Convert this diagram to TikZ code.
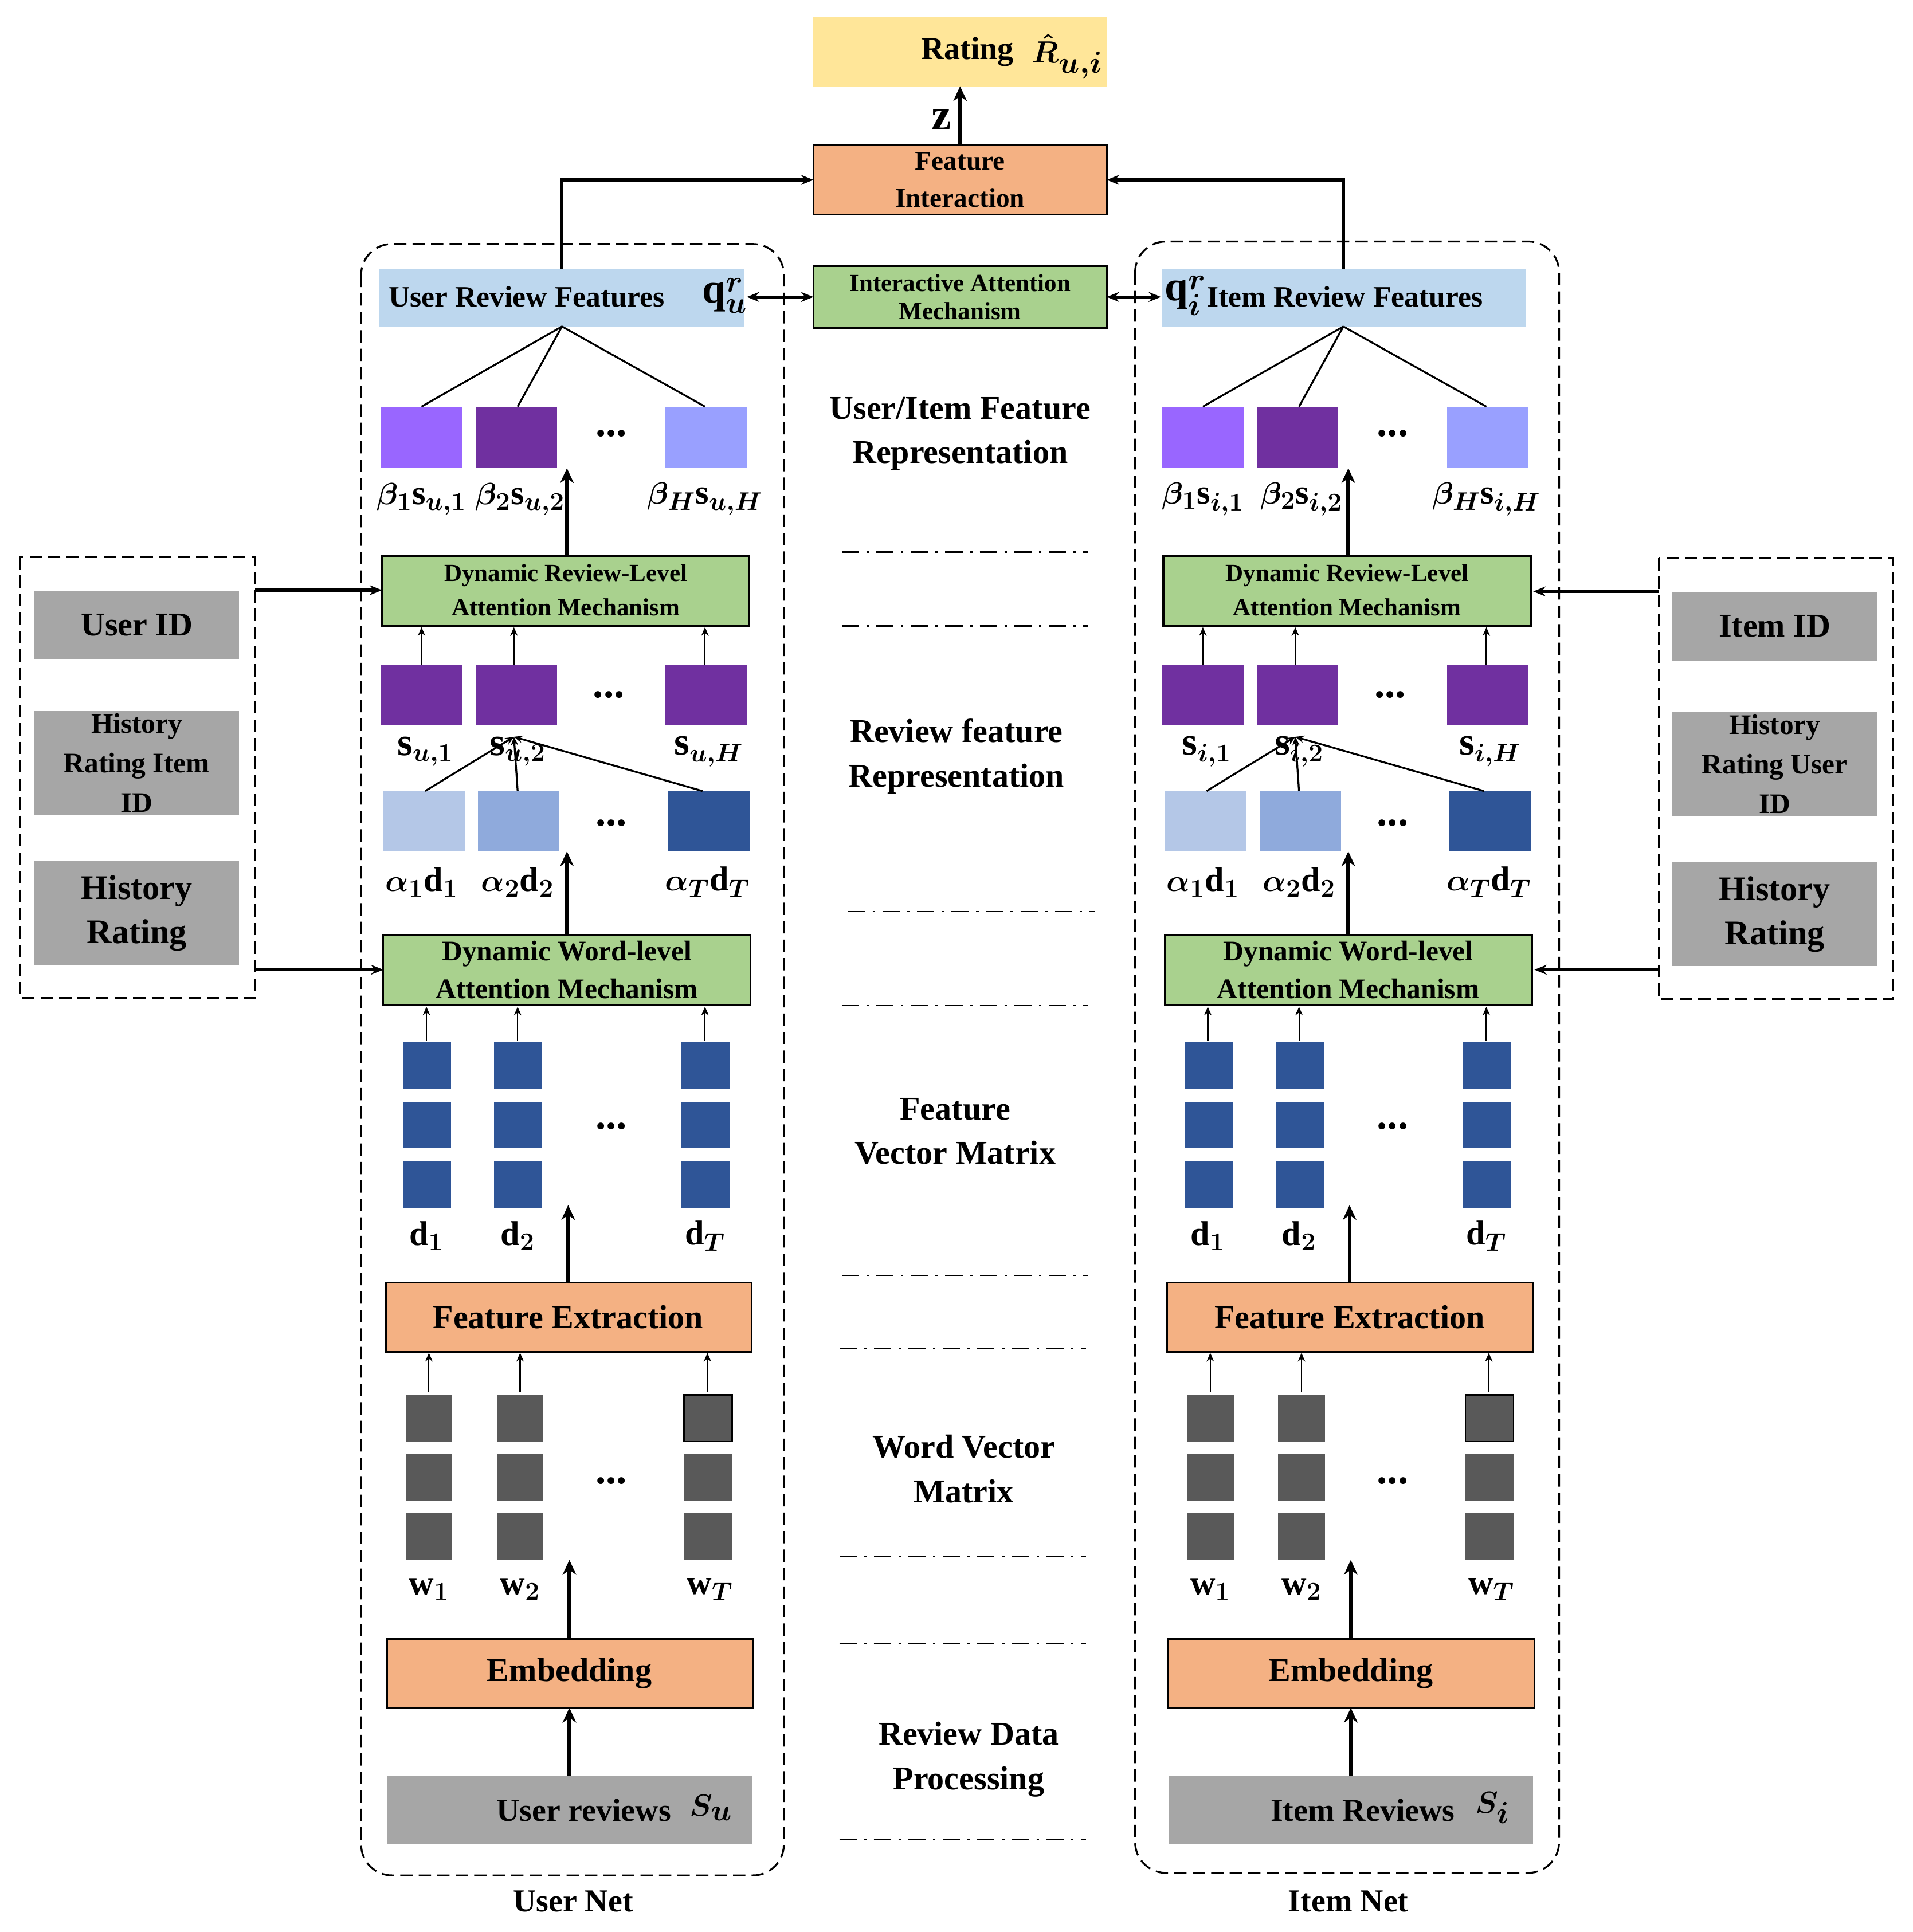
\documentclass[tikz,border=0pt]{standalone}
\usepackage{fontspec}
\setmainfont{Liberation Serif}
\usepackage{amsmath}
\usetikzlibrary{arrows.meta}
\definecolor{cyel}{HTML}{FFE699}
\definecolor{cor}{HTML}{F4B183}
\definecolor{cgr}{HTML}{A9D18E}
\definecolor{cbl}{HTML}{BDD7EE}
\definecolor{cgy}{HTML}{A6A6A6}
\definecolor{cdg}{HTML}{595959}
\definecolor{cp1}{HTML}{9966FF}
\definecolor{cp2}{HTML}{7030A0}
\definecolor{cp3}{HTML}{99A0FF}
\definecolor{ca1}{HTML}{B4C7E7}
\definecolor{ca2}{HTML}{8FAADC}
\definecolor{ca3}{HTML}{2F5597}
\tikzset{
 box/.style={draw=black,line width=1.5pt},
 fs/.style={font=\fontsize{26}{30}\selectfont\bfseries\boldmath},
 fm/.style={font=\fontsize{20}{23}\selectfont\bfseries},
 fl/.style={font=\fontsize{28}{30}\selectfont\boldmath},
 arr/.style={-{Stealth[length=10pt,width=8pt]},line width=1.2pt},
 tarr/.style={-{Stealth[length=12pt,width=11pt]},line width=3pt},
 sarr/.style={-{Stealth[length=7pt,width=6pt]},line width=1pt},
 dd/.style={line width=1pt,dash pattern=on 14pt off 6pt on 2pt off 6pt},
 dbox/.style={draw,line width=1.5pt,dash pattern=on 10pt off 5pt,rounded corners=25pt},
}
\newcommand{\bv}[1]{\textbf{#1}}
\newcommand{\dts}{\textbf{\fontsize{34}{34}\selectfont ...}}
\begin{document}
\begin{tikzpicture}[x=1pt,y=-1pt]
\useasboundingbox (0,0) rectangle (1552,1568);
% top
\path[fill=cyel] (660,14) rectangle (898,70);
\node[fs,anchor=east] (rt) at (826,42) {Rating};
\node[fs,font=\fontsize{34}{34}\selectfont\boldmath] (rh) at (866,46) {$\hat{R}_{u,i}$};
\path[fill=cor,box] (660,118) rectangle (898,174);
\node[fm,font=\fontsize{22}{30}\selectfont\bfseries,align=center] (fi) at (779,146) {Feature\\Interaction};
\draw[tarr] (779,118) -- (779,70);
\node[fs,font=\fontsize{36}{36}\selectfont\bfseries] (z) at (764,97) {z};
\path[fill=cgr,box] (660,216) rectangle (898,266);
\node[fm,align=center] (iam) at (779,241) {Interactive Attention\\Mechanism};
\draw[arr,line width=2.5pt] (456,218) -- (456,146) -- (660,146);
\draw[arr,line width=2.5pt] (1090,218) -- (1090,146) -- (898,146);
\draw[{Stealth[length=10pt,width=8pt]}-{Stealth[length=10pt,width=8pt]},line width=2.5pt] (606,241) -- (660,241);
\draw[{Stealth[length=10pt,width=8pt]}-{Stealth[length=10pt,width=8pt]},line width=2.5pt] (898,241) -- (942,241);
% dashed nets
\path[dbox] (293,198) rectangle (636,1522);
\path[dbox] (921,196) rectangle (1265,1520);
\node[fs] (un) at (465,1543) {User Net};
\node[fs] (inn) at (1094,1543) {Item Net};
% review features
\path[fill=cbl] (308,218) rectangle (604,265);
\node[fs,font=\fontsize{24}{28}\selectfont\bfseries,anchor=west] (urf) at (312,241) {User Review Features};
\node[fl,font=\fontsize{34}{34}\selectfont\boldmath] (uq) at (588,240) {$\bv{q}_u^r$};
\path[fill=cbl] (943,218) rectangle (1238,265);
\node[fl,font=\fontsize{34}{34}\selectfont\boldmath] (iq) at (962,240) {$\bv{q}_i^r$};
\node[fs,font=\fontsize{24}{28}\selectfont\bfseries,anchor=west] (irf) at (976,241) {Item Review Features};
% net columns
\foreach \o/\u in {0/u,634/i}{
\begin{scope}[xshift=\o]
 \path[fill=cp1] (309,330) rectangle (375,380);
 \path[fill=cp2] (386,330) rectangle (452,380);
 \path[fill=cp3] (540,330) rectangle (606,380);
 \node at (496,352) {\dts};
 \draw[line width=1.5pt] (342,330) -- (456,265) (420,330) -- (456,265) (572,330) -- (456,265);
 \node[fl] at (342,405) {$\beta_1\bv{s}_{\u,1}$};
 \node[fl] at (422,405) {$\beta_2\bv{s}_{\u,2}$};
 \node[fl] at (572,405) {$\beta_H\bv{s}_{\u,H}$};
 \path[fill=cgr,box] (310,451) rectangle (608,508);
 \node[fm,font=\fontsize{20}{28}\selectfont\bfseries,align=center] at (459,479) {Dynamic Review-Level\\Attention Mechanism};
 \draw[tarr] (460,451) -- (460,380);
 \foreach \x in {342,417,572} \draw[sarr] (\x,540) -- (\x,509);
 \path[fill=cp2] (309,540) rectangle (375,588);
 \path[fill=cp2] (386,540) rectangle (452,588);
 \path[fill=cp2] (540,540) rectangle (606,588);
 \node at (494,564) {\dts};
 \node[fl,font=\fontsize{32}{32}\selectfont\boldmath] at (345,610) {$\bv{s}_{\u,1}$};
 \node[fl,font=\fontsize{32}{32}\selectfont\boldmath] at (420,610) {$\bv{s}_{\u,2}$};
 \node[fl,font=\fontsize{32}{32}\selectfont\boldmath] at (575,610) {$\bv{s}_{\u,H}$};
 \path[fill=ca1] (311,642) rectangle (377,691);
 \path[fill=ca2] (388,642) rectangle (454,691);
 \path[fill=ca3] (542,642) rectangle (608,691);
 \node at (496,668) {\dts};
 \draw[sarr,line width=1.5pt] (345,642) -- (417,598);
 \draw[sarr,line width=1.5pt] (420,642) -- (417,598);
 \draw[sarr,line width=1.5pt] (570,642) -- (417,598);
 \node[fl] at (342,716) {$\alpha_1\bv{d}_1$};
 \node[fl] at (420,716) {$\alpha_2\bv{d}_2$};
 \node[fl] at (574,716) {$\alpha_T\bv{d}_T$};
 \draw[tarr] (460,760) -- (460,691);
 \path[fill=cgr,box] (311,759) rectangle (609,816);
 \node[fm,font=\fontsize{23}{31}\selectfont\bfseries,align=center] at (460,787) {Dynamic Word-level\\Attention Mechanism};
 \foreach \x in {346,420,572} \draw[sarr] (\x,845) -- (\x,817);
 \foreach \x in {327,401,553} \foreach \y in {846,894,942} \path[fill=ca3] (\x,\y) rectangle ++(39,38);
 \node at (496,914) {\dts};
 \node[fl] at (346,1003) {$\bv{d}_1$};
 \node[fl] at (420,1003) {$\bv{d}_2$};
 \node[fl] at (572,1003) {$\bv{d}_T$};
 \draw[tarr] (461,1040) -- (461,978);
 \path[fill=cor,box] (313,1041) rectangle (610,1097);
 \node[fs,font=\fontsize{27}{30}\selectfont\bfseries] at (461,1069) {Feature Extraction};
 \foreach \x in {348,422,574} \draw[sarr] (\x,1130) -- (\x,1098);
 \foreach \x in {329,403} \foreach \y in {1132,1180,1228} \path[fill=cdg] (\x,\y) rectangle ++(38,38);
 \path[fill=cdg,draw=black,line width=1.2pt] (555,1132) rectangle ++(39,38);
 \path[fill=cdg] (555,1180) rectangle ++(39,38);
 \path[fill=cdg] (555,1228) rectangle ++(39,38);
 \node at (496,1202) {\dts};
 \node[fl] at (348,1290) {$\bv{w}_1$};
 \node[fl] at (422,1290) {$\bv{w}_2$};
 \node[fl] at (576,1290) {$\bv{w}_T$};
 \draw[tarr] (462,1330) -- (462,1266);
 \path[fill=cor,box] (314,1330) rectangle (611,1386);
 \node[fs,font=\fontsize{27}{30}\selectfont\bfseries] at (462,1358) {Embedding};
 \draw[tarr] (462,1441) -- (462,1386);
 \path[fill=cgy] (314,1441) rectangle (610,1497);
\end{scope}}
\node[fs,anchor=east] (ur) at (548,1469) {User reviews};
\node[fl,font=\fontsize{36}{36}\selectfont\boldmath] (urs) at (577,1467) {$S_u$};
\node[fs,anchor=east] (ir) at (1184,1469) {Item Reviews};
\node[fl,font=\fontsize{36}{36}\selectfont\boldmath] (irs) at (1211,1467) {$S_i$};
% side panels
\path[draw,line width=1.5pt,dash pattern=on 10pt off 5pt] (16,452) rectangle (207,810);
\path[draw,line width=1.5pt,dash pattern=on 10pt off 5pt] (1346,453) rectangle (1536,811);
\path[fill=cgy] (28,480) rectangle (194,535);
\path[fill=cgy] (28,577) rectangle (194,661);
\path[fill=cgy] (28,699) rectangle (194,783);
\node[fs,font=\fontsize{27}{30}\selectfont\bfseries] (uid) at (111,507) {User ID};
\node[fs,font=\fontsize{23}{32}\selectfont\bfseries,align=center] (hri) at (111,619) {History\\Rating Item\\ID};
\node[fs,font=\fontsize{28}{36}\selectfont\bfseries,align=center] (hr1) at (111,741) {History\\Rating};
\path[fill=cgy] (1357,481) rectangle (1523,536);
\path[fill=cgy] (1357,578) rectangle (1523,662);
\path[fill=cgy] (1357,700) rectangle (1523,784);
\node[fs,font=\fontsize{27}{30}\selectfont\bfseries] (iid) at (1440,508) {Item ID};
\node[fs,font=\fontsize{23}{32}\selectfont\bfseries,align=center] (hru) at (1440,620) {History\\Rating User\\ID};
\node[fs,font=\fontsize{28}{36}\selectfont\bfseries,align=center] (hr2) at (1440,742) {History\\Rating};
\draw[arr,line width=2.5pt] (207,479) -- (310,479);
\draw[arr,line width=2.5pt] (207,787) -- (311,787);
\draw[arr,line width=2.5pt] (1346,480) -- (1244,480);
\draw[arr,line width=2.5pt] (1346,787) -- (1245,787);
% middle texts
\node[fs,font=\fontsize{27}{36}\selectfont\bfseries,align=center] at (779,352) {User/Item Feature\\Representation};
\node[fs,font=\fontsize{27}{36}\selectfont\bfseries,align=center] at (776,614) {Review feature\\Representation};
\node[fs,font=\fontsize{27}{36}\selectfont\bfseries,align=center] at (775,918) {Feature\\Vector Matrix};
\node[fs,font=\fontsize{27}{36}\selectfont\bfseries,align=center] at (782,1192) {Word Vector\\Matrix};
\node[fs,font=\fontsize{27}{36}\selectfont\bfseries,align=center] at (786,1428) {Review Data\\Processing};
\foreach \y/\a in {448/683,508/683,740/688,816/683,1035/683,1094/681,1263/681,1334/681,1493/681}
 \draw[dd] (\a,\y) -- ++(200,0);
\end{tikzpicture}
\end{document}
